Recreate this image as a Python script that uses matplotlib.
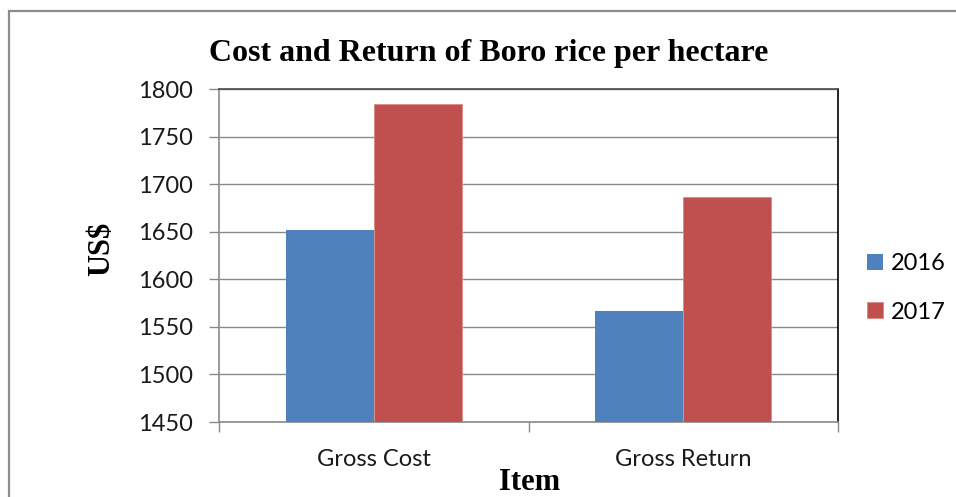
import matplotlib
matplotlib.use("Agg")
import matplotlib.pyplot as plt
from matplotlib.patches import Rectangle
import numpy as np

# Data
categories = ["Gross Cost", "Gross Return"]
years = ["2016", "2017"]
values_2016 = [1652, 1567]
values_2017 = [1784, 1686]
y_ticks = [1450, 1500, 1550, 1600, 1650, 1700, 1750, 1800]

W, H = 956, 497
fig = plt.figure(figsize=(W / 100, H / 100), dpi=100)
fig.patch.set_facecolor("white")


def fx(px):
    return px / W


def fy(py):
    return 1 - py / H


# Outer chart frame
fig.patches.append(Rectangle((fx(9), -0.2), 2.0, fy(11) + 0.2, transform=fig.transFigure,
                             fill=False, edgecolor="#8c8c8c", linewidth=1.6))

ax = fig.add_axes([fx(219), fy(422), fx(838) - fx(219), fy(89) - fy(422)])

blue = "#4F81BD"
red = "#C0504D"
grid_c = "#8a8a8a"
tick_font = "Lato"
serif = "Liberation Serif"

x = np.arange(len(categories))
bw = 0.285
ax.bar(x - bw / 2, values_2016, bw, color=blue, label=years[0], zorder=3)
ax.bar(x + bw / 2, values_2017, bw, color=red, edgecolor="#d98a88", linewidth=0.6,
       label=years[1], zorder=3)

ax.set_xlim(-0.5, len(categories) - 0.5)
ax.set_ylim(y_ticks[0], y_ticks[-1])
ax.set_yticks(y_ticks)
ax.yaxis.grid(True, color=grid_c, linewidth=1.0, zorder=0)
ax.set_axisbelow(True)

# Category boundary ticks (major) and category labels (minor)
ax.set_xticks(np.arange(-0.5, len(categories), 1.0))
ax.set_xticklabels([])
ax.set_xticks(x, minor=True)
ax.set_xticklabels(categories, minor=True, fontfamily=tick_font, fontsize=17, color="#1a1a1a")
ax.tick_params(axis="x", which="major", direction="out", length=7.5, width=1.0, color=grid_c)
ax.tick_params(axis="x", which="minor", length=0, pad=19.5)
ax.tick_params(axis="y", direction="out", length=7.5, width=1.0, color=grid_c, pad=11.5,
               labelsize=17, labelcolor="#1a1a1a")
for lab in ax.get_yticklabels():
    lab.set_fontfamily(tick_font)

ax.spines["left"].set_color(grid_c)
ax.spines["bottom"].set_color(grid_c)
ax.spines["top"].set_color("#4a4a4a")
ax.spines["right"].set_color("#000000")
for s in ax.spines.values():
    s.set_linewidth(1.2)

# Titles
fig.text(fx(489), fy(61), "Cost and Return of Boro rice per hectare", ha="center", va="baseline",
         fontfamily=serif, fontweight="bold", fontsize=23)
fig.text(fx(530), fy(490), "Item", ha="center", va="baseline",
         fontfamily=serif, fontweight="bold", fontsize=22)
fig.text(fx(102), fy(249), "US$", ha="center", va="center", rotation=90,
         fontfamily=serif, fontweight="bold", fontsize=22)

# Legend
fig.legend(loc="center left", bbox_to_anchor=(fx(867), fy(288)), frameon=False,
           prop={"family": tick_font, "size": 17}, handlelength=0.68, handleheight=0.68,
           handletextpad=0.35, labelspacing=1.15, borderpad=0, borderaxespad=0)

fig.savefig("out.png", dpi=100)
